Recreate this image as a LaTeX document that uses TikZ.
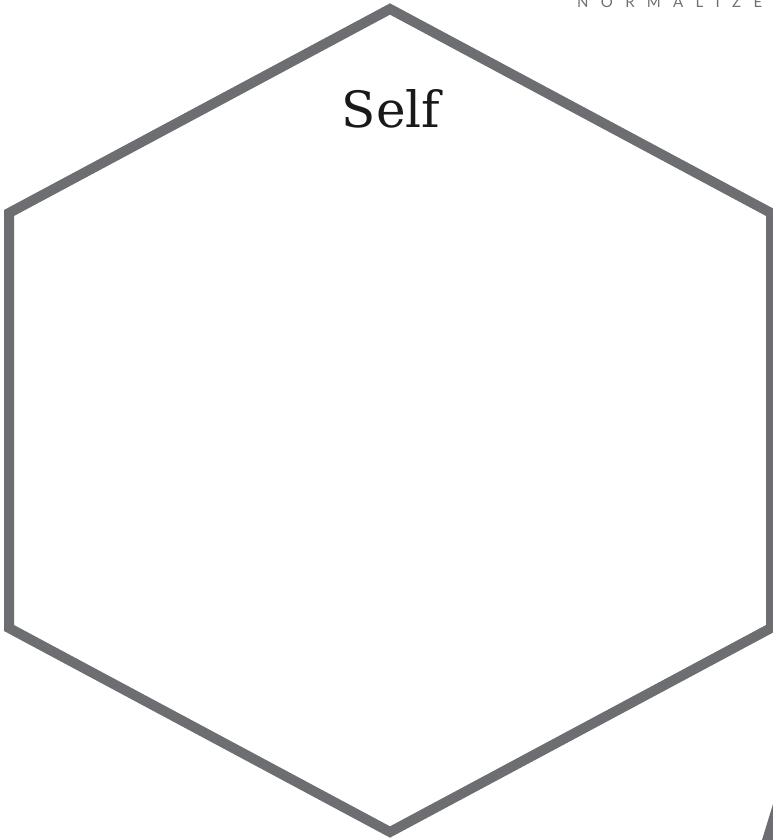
\documentclass[tikz,border=0pt]{standalone}
\usepackage{fontspec}
\newfontfamily\selffont{DejaVu Serif}
\newfontfamily\headfont[LetterSpace=82]{Lato}
\definecolor{hexgray}{HTML}{6D6E71}
\definecolor{headgray}{HTML}{6F7073}
\tikzset{
  hexline/.style={draw=hexgray, line width=10pt, line join=miter},
  titletext/.style={font=\selffont\fontsize{50}{50}\selectfont, text=black!90},
  headtext/.style={font=\headfont\fontsize{15}{15}\selectfont, text=headgray, inner sep=0pt}
}
\begin{document}
\begin{tikzpicture}[x=1pt,y=-1pt]
  \useasboundingbox (0,0) rectangle (773,840);

  % hexagon corners
  \foreach \name/\px/\py in {
    t/390/9,
    ul/9/213,
    ll/9/628,
    b/390/832,
    lr/771/628,
    ur/771/213
  }{
    \coordinate (\name) at (\px,\py);
  }
  \draw[hexline] (t) -- (ul) -- (ll) -- (b) -- (lr) -- (ur) -- cycle;

  \node[titletext] (self) at (391,109) {Self};
  \node[headtext, anchor=base west] (brand) at (577,8) {NORMALIZE};

  % corner of the next shape
  \fill[hexgray] (773,804) -- (762,840) -- (773,840) -- cycle;
\end{tikzpicture}
\end{document}
